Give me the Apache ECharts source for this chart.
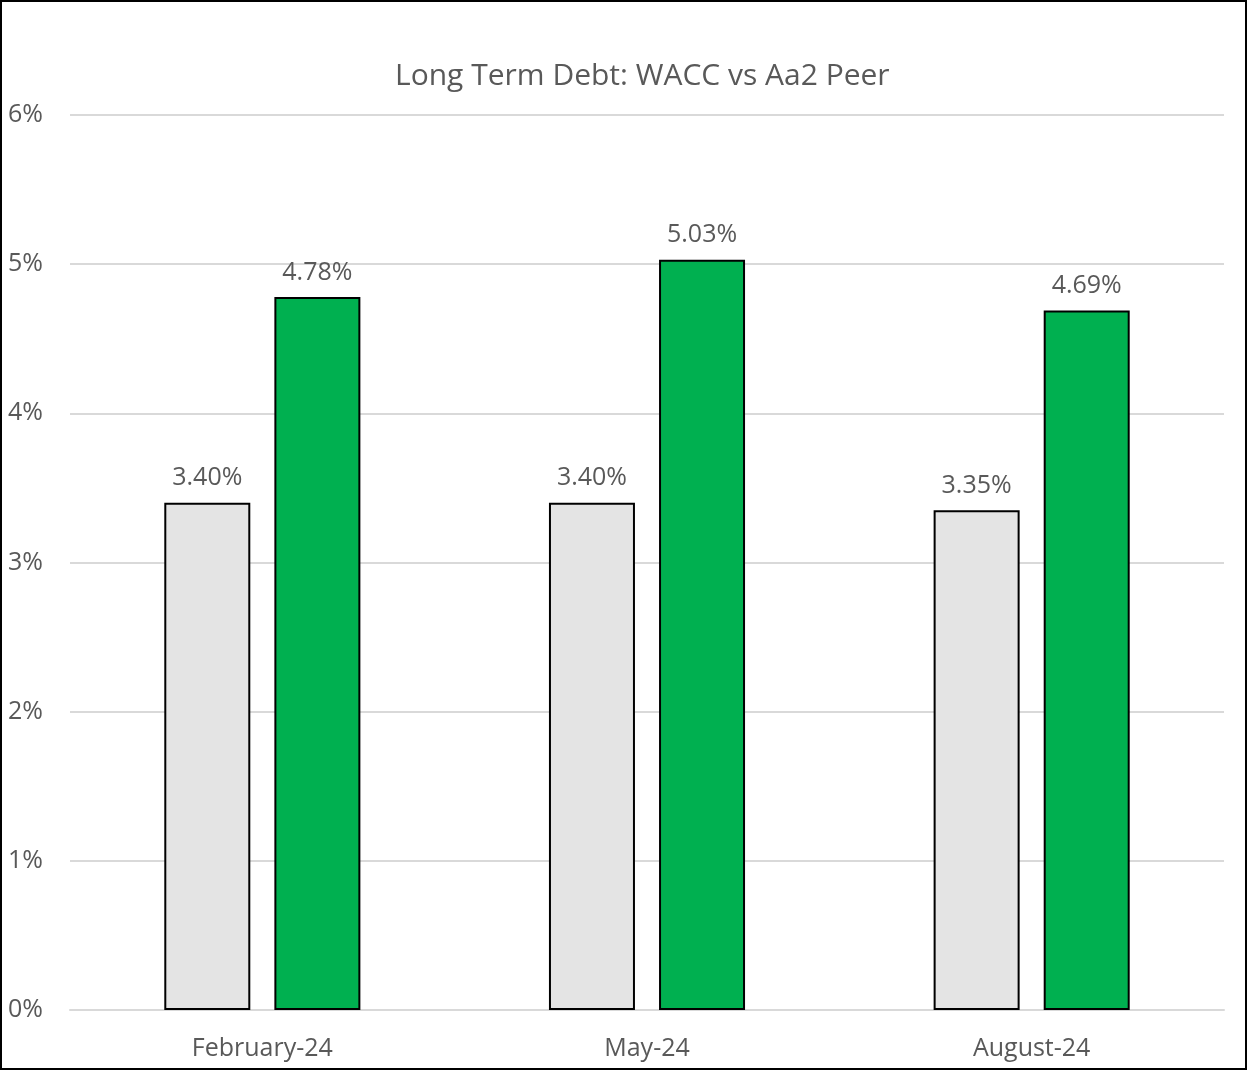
<!DOCTYPE html>
<html>
<head>
<meta charset="utf-8">
<script src="https://cdn.jsdelivr.net/npm/echarts@6/dist/echarts.min.js"></script>
<style>
  html, body { margin: 0; padding: 0; background: #fff; }
  #chart { width: 1247px; height: 1070px; box-sizing: border-box; border: 2px solid #000; }
</style>
</head>
<body>
<div id="chart"></div>
<script>
// Quarterly long term debt rates (percent)
const categories = ['February-24', 'May-24', 'August-24'];
const waccRates = [3.40, 3.40, 3.35];
const peerRates = [4.78, 5.03, 4.69];
const yTicks = [0, 1, 2, 3, 4, 5, 6];

const textColor = '#595959';
const fontFamily = '"Open Sans", "Noto Sans", sans-serif';

const chart = echarts.init(document.getElementById('chart'));
chart.setOption({
  animation: false,
  title: {
    text: 'Long Term Debt: WACC vs Aa2 Peer',
    left: 388,
    top: 54,
    textStyle: { color: textColor, fontFamily, fontSize: 30, fontWeight: 'normal' }
  },
  grid: { left: 68, right: 21, top: 113, bottom: 58 },
  xAxis: {
    type: 'category',
    data: categories,
    axisLine: { show: true, lineStyle: { color: '#d9d9d9', width: 2 } },
    axisTick: { show: false },
    axisLabel: { color: textColor, fontFamily, fontSize: 25, margin: 26 }
  },
  yAxis: {
    type: 'value',
    min: yTicks[0],
    max: yTicks[yTicks.length - 1],
    interval: 1,
    axisLine: { show: false },
    axisTick: { show: false },
    splitLine: { lineStyle: { color: '#d9d9d9', width: 2 } },
    axisLabel: {
      color: textColor, fontFamily, fontSize: 25,
      align: 'left', margin: 62,
      formatter: v => v + '%'
    }
  },
  series: [
    {
      name: 'WACC',
      type: 'bar',
      data: waccRates,
      barWidth: 86,
      barGap: '28%',
      itemStyle: { color: '#e4e4e4', borderColor: '#000', borderWidth: 2 },
      label: {
        show: true, position: 'top', distance: 12,
        color: textColor, fontFamily, fontSize: 25,
        formatter: p => p.value.toFixed(2) + '%'
      }
    },
    {
      name: 'Aa2 Peer',
      type: 'bar',
      data: peerRates,
      barWidth: 86,
      itemStyle: { color: '#00b050', borderColor: '#000', borderWidth: 2 },
      label: {
        show: true, position: 'top', distance: 12,
        color: textColor, fontFamily, fontSize: 25,
        formatter: p => p.value.toFixed(2) + '%'
      }
    }
  ]
});
</script>
</body>
</html>
